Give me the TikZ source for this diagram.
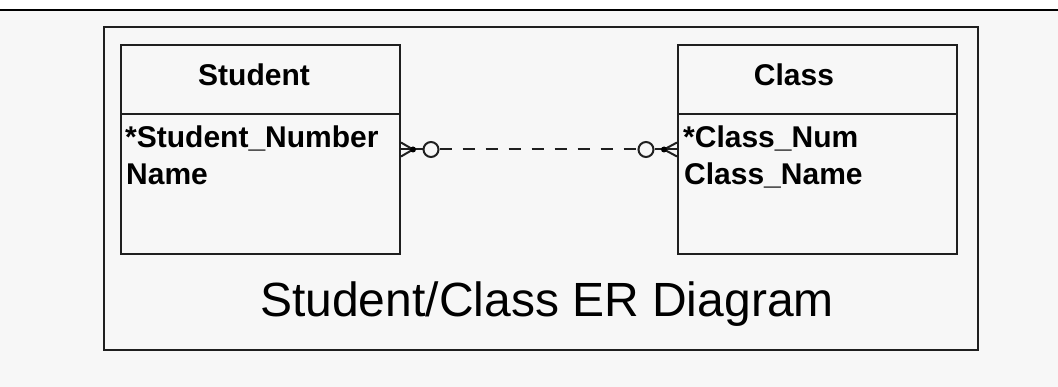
\documentclass[tikz,border=0pt]{standalone}
\usepackage{fontspec}
\setmainfont{Liberation Sans}
\begin{document}
\begin{tikzpicture}[x=1pt,y=-1pt,
  line/.style={draw=black!88, line width=2pt},
  entity/.style={line, fill=bgc, inner sep=0pt, anchor=north west},
  attr/.style={anchor=base west, inner sep=0pt, font=\fontsize{30}{36}\selectfont\bfseries},
  hdr/.style={anchor=base, inner sep=0pt, font=\fontsize{30}{36}\selectfont\bfseries},
  conn/.style={draw=black!88, line width=2pt},
  ring/.style={circle, draw=black!88, line width=2pt, fill=bgc, minimum size=15pt, inner sep=0pt},
  dot/.style={circle, fill=black, minimum size=6pt, inner sep=0pt}]
\definecolor{bgc}{HTML}{F7F7F7}
\useasboundingbox (0,0) rectangle (1058,387);
\fill[white] (0,0) rectangle (1058,10);
\fill[bgc] (0,10) rectangle (1058,387);
\draw[black, line width=2pt] (0,10) -- (1058,10);
% outer frame
\node[entity, minimum width=874pt, minimum height=323pt] (frame) at (103,26) {};
% entities
\node[entity, minimum width=279pt, minimum height=209pt] (student) at (120,44) {};
\node[entity, minimum width=279pt, minimum height=209pt] (class) at (677,44) {};
\draw[line] (student.west |- 0,114) coordinate (sdl) -- (student.east |- 0,114) coordinate (sdr);
\draw[line] (class.west |- 0,114) coordinate (cdl) -- (class.east |- 0,114) coordinate (cdr);
\node[hdr] (sh) at (254,86) {Student};
\node[hdr] (ch) at (794,86) {Class};
\node[attr] (sa1) at (125,148) {*Student\_Number};
\node[attr] (sa2) at (126,185) {Name};
\node[attr] (ca1) at (683,148) {*Class\_Num};
\node[attr] (ca2) at (684,185) {Class\_Name};
% relationship
\coordinate (sj) at ([xshift=12pt]student.east);
\coordinate (cj) at ([xshift=-13pt]class.west);
\node[ring] (sr) at ([xshift=30pt]student.east) {};
\node[ring] (cr) at ([xshift=-31pt]class.west) {};
\draw[conn] ([yshift=-7pt]student.east) -- (sj);
\draw[conn] (student.east) -- (sj);
\draw[conn] ([yshift=7pt]student.east) -- (sj);
\draw[conn] (sj) -- (sr);
\draw[conn] ([yshift=-7pt]class.west) -- (cj);
\draw[conn] (class.west) -- (cj);
\draw[conn] ([yshift=7pt]class.west) -- (cj);
\draw[conn] (cj) -- (cr);
\node[dot] at (sj) {};
\node[dot] at (cj) {};
\draw[conn, dash pattern=on 12pt off 11pt] (sr) -- (cr);
% caption
\node[anchor=base, inner sep=0pt, font=\fontsize{48}{56}\selectfont] (title) at (547,317) {Student/Class ER Diagram};
\end{tikzpicture}
\end{document}
